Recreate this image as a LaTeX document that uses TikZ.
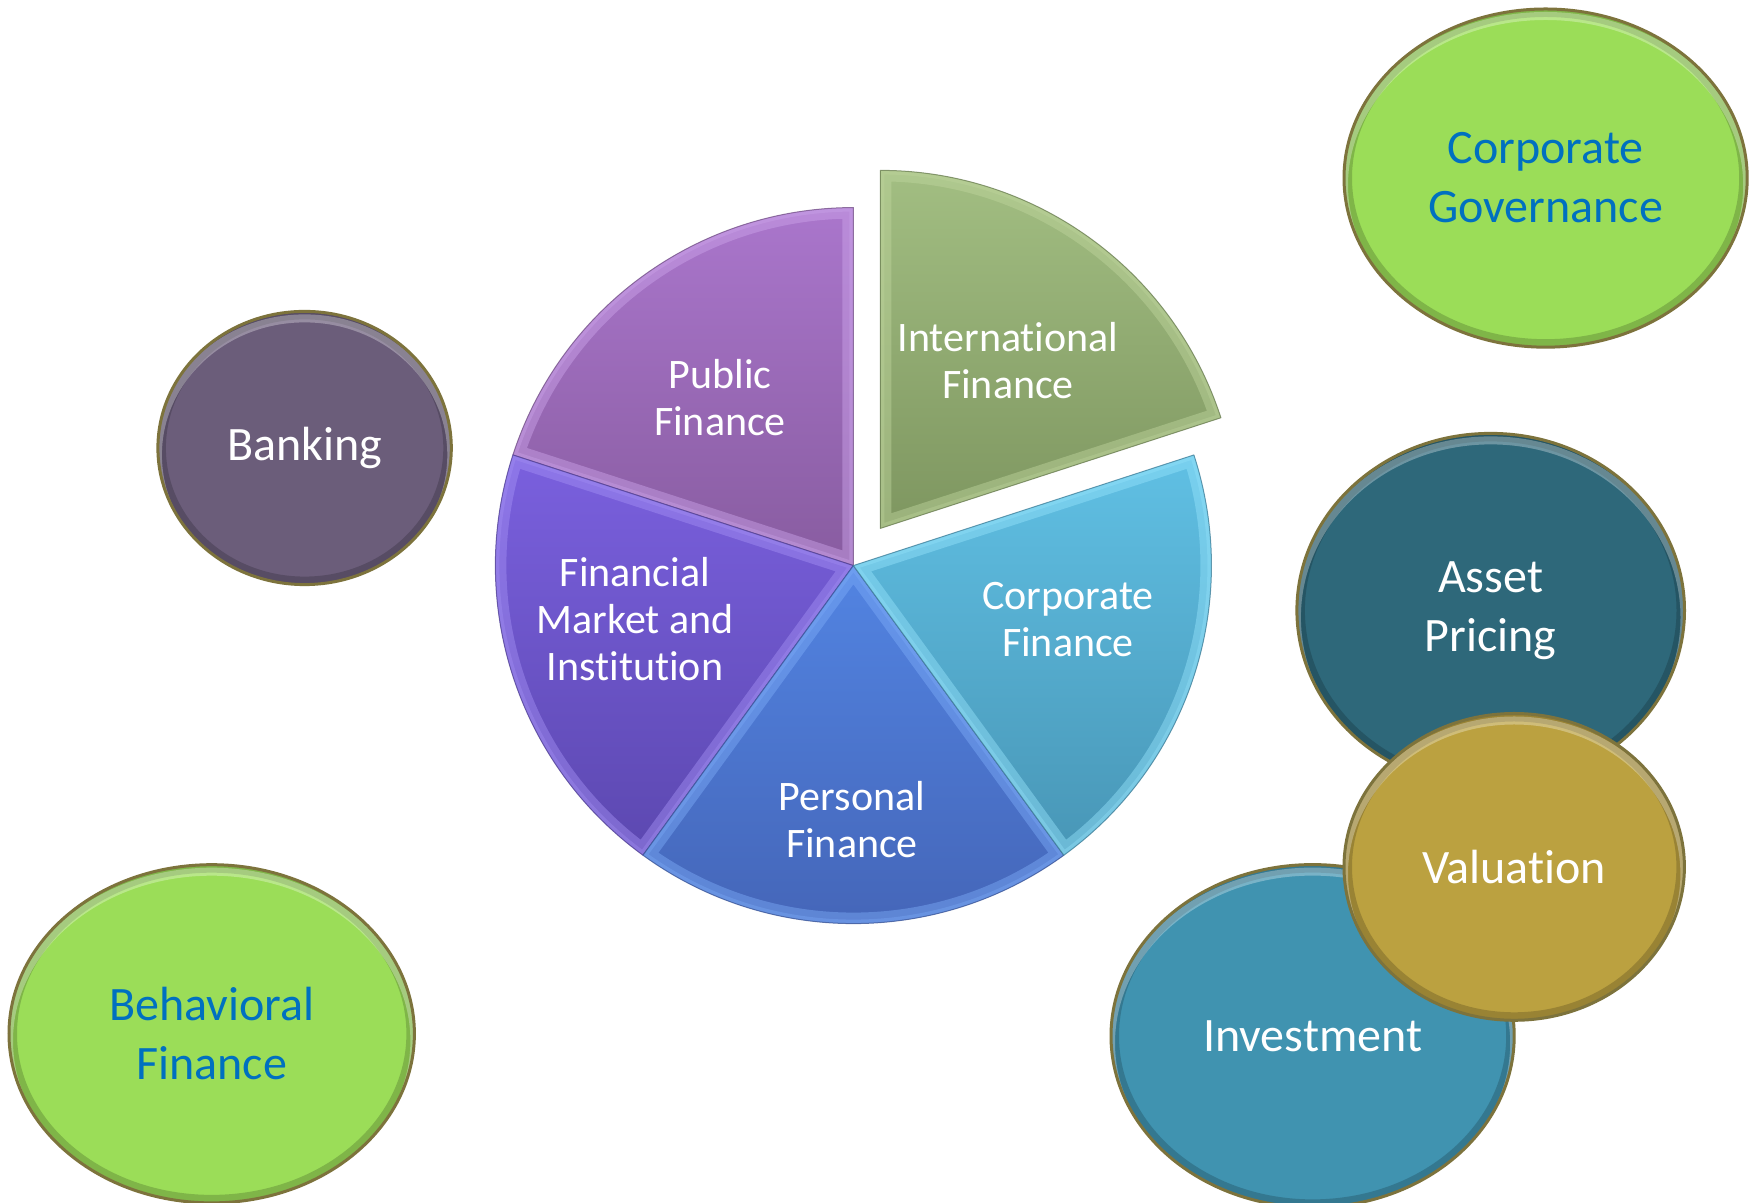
\documentclass[tikz,border=0pt]{standalone}
\usepackage{fontspec}
\setmainfont{Carlito}[Ligatures={NoCommon,NoContextual,NoRare}]
\usetikzlibrary{shapes.geometric}
\definecolor{greenfill}{RGB}{155,221,88}
\definecolor{bluetext}{RGB}{0,112,192}
\definecolor{bankfill}{RGB}{107,93,122}
\definecolor{assetfill}{RGB}{46,104,122}
\definecolor{valfill}{RGB}{187,161,64}
\definecolor{invfill}{RGB}{64,147,176}
\definecolor{rimc}{RGB}{125,115,60}
\definecolor{pubtop}{RGB}{170,118,204}\definecolor{pubbot}{RGB}{136,92,160}\definecolor{publt}{RGB}{205,165,235}
\definecolor{fmitop}{RGB}{122,96,222}\definecolor{fmibot}{RGB}{92,72,176}\definecolor{fmilt}{RGB}{165,145,245}
\definecolor{pertop}{RGB}{82,132,226}\definecolor{perbot}{RGB}{68,100,182}\definecolor{perlt}{RGB}{125,172,248}
\definecolor{cortop}{RGB}{96,192,228}\definecolor{corbot}{RGB}{72,150,182}\definecolor{corlt}{RGB}{150,228,252}
\definecolor{inttop}{RGB}{162,190,130}\definecolor{intbot}{RGB}{126,150,96}\definecolor{intlt}{RGB}{192,214,158}
\newcommand{\myslice}[7]{%
  \begin{scope}
    \clip (#1,#2) -- ++(#3:358) arc[start angle=#3, end angle=#4, radius=358] -- cycle;
    \shade[top color=#5, bottom color=#6] (#1,#2) -- ++(#3:358) arc[start angle=#3, end angle=#4, radius=358] -- cycle;
    \draw[#7, line width=11pt, opacity=0.45, line join=round] (#1,#2) -- ++(#3:358) arc[start angle=#3, end angle=#4, radius=358] -- cycle;
    \draw[#7, line width=4pt, opacity=0.35, line join=round] (#1,#2) -- ++(#3:358) arc[start angle=#3, end angle=#4, radius=358] -- cycle;
  \end{scope}
  \draw[#6!80!black, line width=0.5pt, line join=round, opacity=0.7] (#1,#2) -- ++(#3:358) arc[start angle=#3, end angle=#4, radius=358] -- cycle;
}
\newcommand{\mybubble}[8]{%
  \begin{scope}
    \clip (#2,#3) ellipse [x radius=#4, y radius=#5];
    \fill[#6] (#2,#3) ellipse [x radius=#4, y radius=#5];
    \draw[#6!55!black, line width=8pt, opacity=0.4] (#2,#3) ellipse [x radius=#4, y radius=#5];
    \draw[white, line width=4pt, opacity=0.3] (#2,#3-7) ellipse [x radius=#4, y radius=#5];
  \end{scope}
  \draw[rimc, line width=1.5pt] (#2,#3) ellipse [x radius=#4, y radius=#5];
  \node[bubblelabel, text=#7] (#1) at (#2,#3) {#8};
}
\begin{document}
\begin{tikzpicture}[x=0.5pt,y=0.5pt,
  pielabel/.style={text=white, font=\fontsize{21}{23.5}\selectfont, align=center, inner sep=0pt},
  bubblelabel/.style={font=\fontsize{24}{29.5}\selectfont, align=center, inner sep=0pt}]
\useasboundingbox[fill=white] (0,0) rectangle (1756,1203);
% pie
\myslice{853.4}{637.4}{90}{162}{pubtop}{pubbot}{publt}
\myslice{853.4}{637.4}{162}{234}{fmitop}{fmibot}{fmilt}
\myslice{853.4}{637.4}{234}{306}{pertop}{perbot}{perlt}
\myslice{853.4}{637.4}{-54}{18}{cortop}{corbot}{corlt}
\myslice{880.4}{674.6}{18}{90}{inttop}{intbot}{intlt}
\node[pielabel] (public) at (720,805) {Public\\Finance};
\node[pielabel] (intl) at (1008,842) {International\\Finance};
\node[pielabel] (fmi) at (635,584) {Financial\\Market and\\Institution};
\node[pielabel] (corp) at (1068,583) {Corporate\\Finance};
\node[pielabel] (pers) at (852,383) {Personal\\Finance};
% bubbles
\mybubble{gov}{1545.6}{1024.9}{201.6}{169.1}{greenfill}{bluetext}{Corporate\\Governance}
\mybubble{bank}{304.6}{755}{146.7}{136.6}{bankfill}{white}{Banking}
\mybubble{asset}{1490.7}{592.6}{193.8}{177}{assetfill}{white}{Asset\\Pricing}
\mybubble{inv}{1312.6}{167}{201.6}{171.4}{invfill}{white}{Investment}
\mybubble{val}{1514.2}{336.1}{170.2}{153.4}{valfill}{white}{Valuation}
\mybubble{behav}{211.7}{169.2}{202.7}{169.1}{greenfill}{bluetext}{Behavioral\\Finance}
\end{tikzpicture}
\end{document}
